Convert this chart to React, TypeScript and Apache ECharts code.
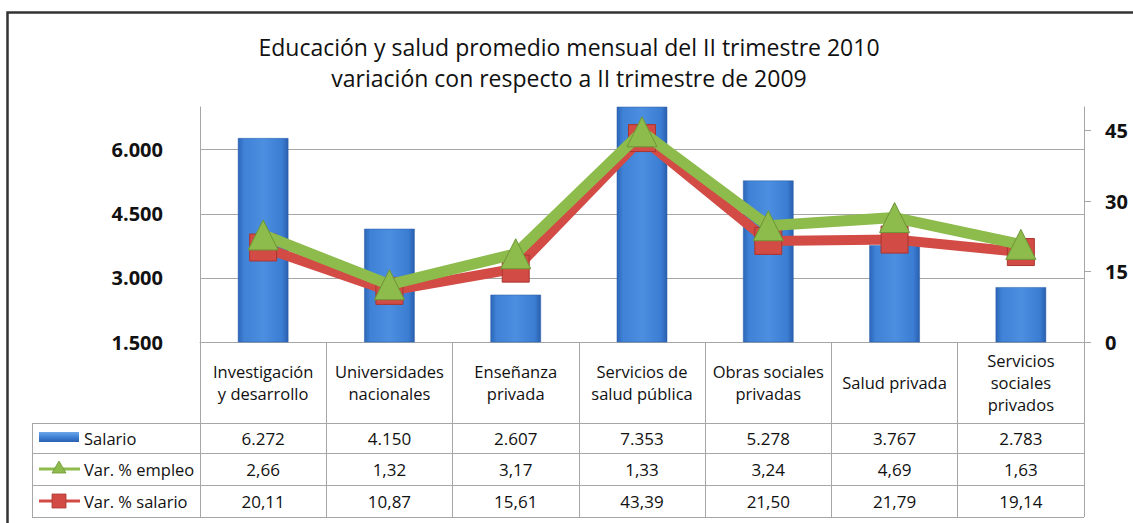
import React, { useEffect, useRef } from 'react';
import * as echarts from 'echarts';

const titleLines = [
  'Educación y salud promedio mensual del II trimestre 2010',
  'variación con respecto a II trimestre de 2009',
];
const categories = [
  'Investigación\ny desarrollo',
  'Universidades\nnacionales',
  'Enseñanza\nprivada',
  'Servicios de\nsalud pública',
  'Obras sociales\nprivadas',
  'Salud privada',
  'Servicios\nsociales\nprivados',
];
const seriesNames = ['Salario', 'Var. % empleo', 'Var. % salario'];
const salario = [6272, 4150, 2607, 7353, 5278, 3767, 2783];
const varEmpleo = [2.66, 1.32, 3.17, 1.33, 3.24, 4.69, 1.63];
const varSalario = [20.11, 10.87, 15.61, 43.39, 21.5, 21.79, 19.14];
const leftTicks = [1500, 3000, 4500, 6000];
const rightTicks = [0, 15, 30, 45];

const FONT = "'Open Sans', sans-serif";
const GRID = '#A6A6A6';
const TEXT = '#111111';
const RED = '#D24B45';
const RED_DARK = '#A93531';
const GREEN = '#8DBB4C';
const GREEN_DARK = '#6E9636';

const fmtThousands = (v: number) => {
  const s = Math.round(v).toString();
  return s.replace(/\B(?=(\d{3})+(?!\d))/g, '.');
};
const fmtDec = (v: number) => v.toFixed(2).replace('.', ',');

const barGradient = new echarts.graphic.LinearGradient(0, 0, 1, 0, [
  { offset: 0, color: '#2C66B8' },
  { offset: 0.12, color: '#3F82D6' },
  { offset: 0.5, color: '#4C8FE0' },
  { offset: 0.88, color: '#3B7DD2' },
  { offset: 1, color: '#2A5FAE' },
]);

export default function App() {
  const ref = useRef<HTMLDivElement>(null);
  useEffect(() => {
    if (!ref.current) return;
    const chart = echarts.init(ref.current, undefined, { renderer: 'svg' });
    const option: any = {
      animation: false,
      backgroundColor: '#ffffff',
      grid: { left: 200, right: 49, top: 107, bottom: 181 },
      xAxis: {
        type: 'category',
        data: categories,
        boundaryGap: true,
        axisLine: { lineStyle: { color: GRID, width: 1 } },
        axisTick: { show: true, length: 175, lineStyle: { color: GRID, width: 1 } },
        axisLabel: {
          margin: 40,
          verticalAlign: 'middle',
          lineHeight: 22,
          fontSize: 16.5,
          color: TEXT,
          fontFamily: FONT,
          interval: 0,
        },
      },
      yAxis: [
        {
          type: 'value',
          min: 1500,
          max: 7000,
          interval: 1500,
          position: 'left',
          axisLine: { show: true, lineStyle: { color: GRID } },
          axisTick: { show: false },
          splitLine: { show: true, showMaxLine: false, lineStyle: { color: GRID, width: 1 } },
          axisLabel: {
            customValues: leftTicks,
            margin: 37,
            fontSize: 20,
            fontWeight: 'bold',
            color: TEXT,
            fontFamily: FONT,
            formatter: (v: number) => fmtThousands(v),
          },
        },
        {
          type: 'value',
          min: 0,
          max: 50,
          interval: 15,
          position: 'right',
          axisLine: { show: true, lineStyle: { color: GRID } },
          axisTick: { show: true, length: 7, customValues: rightTicks, lineStyle: { color: GRID } },
          splitLine: { show: false },
          axisLabel: {
            customValues: rightTicks,
            margin: 21,
            fontSize: 20,
            fontWeight: 'bold',
            color: TEXT,
            fontFamily: FONT,
          },
        },
      ],
      series: [
        {
          name: seriesNames[0],
          type: 'bar',
          yAxisIndex: 0,
          data: salario,
          barWidth: '40%',
          clip: true,
          itemStyle: { color: barGradient, borderColor: '#2A5DA8', borderWidth: 0.5 },
          z: 2,
        },
        {
          name: seriesNames[2],
          type: 'line',
          yAxisIndex: 1,
          stack: 'var',
          data: varSalario,
          symbol: 'rect',
          symbolSize: 27,
          lineStyle: { color: RED, width: 10 },
          itemStyle: { color: RED, borderColor: RED_DARK, borderWidth: 1 },
          z: 3,
        },
        {
          name: seriesNames[1],
          type: 'line',
          yAxisIndex: 1,
          stack: 'var',
          data: varEmpleo,
          symbol: 'triangle',
          symbolSize: [30, 30],
          lineStyle: { color: GREEN, width: 11 },
          itemStyle: { color: GREEN, borderColor: GREEN_DARK, borderWidth: 1 },
          z: 4,
        },
      ],
    };
    chart.setOption(option);

    const xs = categories.map((_, i) => chart.convertToPixel({ xAxisIndex: 0 }, i) as number);
    const rightX = chart.getWidth() - 49;
    const leftTableX = 32;
    const rowLines = [423, 453, 485, 517];
    const rowCenters = [438, 469, 501];
    const rowValues = [salario.map(fmtThousands), varEmpleo.map(fmtDec), varSalario.map(fmtDec)];

    const g: any[] = [];
    g.push({
      type: 'polyline',
      shape: { points: [[7.5, 530], [7.5, 12.5], [1140, 12.5]] },
      style: { stroke: '#333', lineWidth: 2.5, fill: null },
      silent: true,
    });
    titleLines.forEach((t, i) => {
      g.push({
        type: 'text',
        x: 569,
        y: 47 + i * 31,
        style: {
          text: t,
          fontSize: 23,
          fontFamily: FONT,
          fill: TEXT,
          align: 'center',
          verticalAlign: 'middle',
        },
      });
    });
    rowLines.forEach((y) => {
      g.push({
        type: 'line',
        shape: { x1: leftTableX, y1: y + 0.5, x2: rightX, y2: y + 0.5 },
        style: { stroke: GRID, lineWidth: 1 },
        silent: true,
      });
    });
    g.push({
      type: 'line',
      shape: { x1: leftTableX + 0.5, y1: rowLines[0], x2: leftTableX + 0.5, y2: rowLines[3] + 0.5 },
      style: { stroke: GRID, lineWidth: 1 },
      silent: true,
    });
    rowValues.forEach((vals, r) => {
      vals.forEach((v, c) => {
        g.push({
          type: 'text',
          x: xs[c],
          y: rowCenters[r],
          style: {
            text: v,
            fontSize: 17,
            fontFamily: FONT,
            fill: TEXT,
            align: 'center',
            verticalAlign: 'middle',
          },
        });
      });
    });
    g.push({
      type: 'rect',
      shape: { x: 39, y: 432, width: 40, height: 10 },
      style: {
        fill: new echarts.graphic.LinearGradient(0, 0, 0, 1, [
          { offset: 0, color: '#6FA6E8' },
          { offset: 0.5, color: '#3F82D6' },
          { offset: 1, color: '#2A5FAE' },
        ]),
      },
    });
    g.push({
      type: 'line',
      shape: { x1: 39, y1: 469, x2: 80, y2: 469 },
      style: { stroke: GREEN, lineWidth: 3 },
    });
    g.push({
      type: 'polygon',
      shape: { points: [[59, 461], [66, 473], [52, 473]] },
      style: { fill: GREEN, stroke: GREEN_DARK, lineWidth: 0.8 },
    });
    g.push({
      type: 'line',
      shape: { x1: 39, y1: 501, x2: 80, y2: 501 },
      style: { stroke: RED, lineWidth: 3 },
    });
    g.push({
      type: 'rect',
      shape: { x: 52, y: 494, width: 14, height: 14 },
      style: { fill: RED, stroke: RED_DARK, lineWidth: 0.8 },
    });
    seriesNames.forEach((n, i) => {
      g.push({
        type: 'text',
        x: 84,
        y: rowCenters[i],
        style: {
          text: n,
          fontSize: 16.5,
          fontFamily: FONT,
          fill: TEXT,
          align: 'left',
          verticalAlign: 'middle',
        },
      });
    });
    chart.setOption({ graphic: g });

    return () => chart.dispose();
  }, []);
  return (
    <div
      ref={ref}
      style={{ position: 'fixed', left: 0, top: 0, width: 1133, height: 523, background: '#fff' }}
    />
  );
}
